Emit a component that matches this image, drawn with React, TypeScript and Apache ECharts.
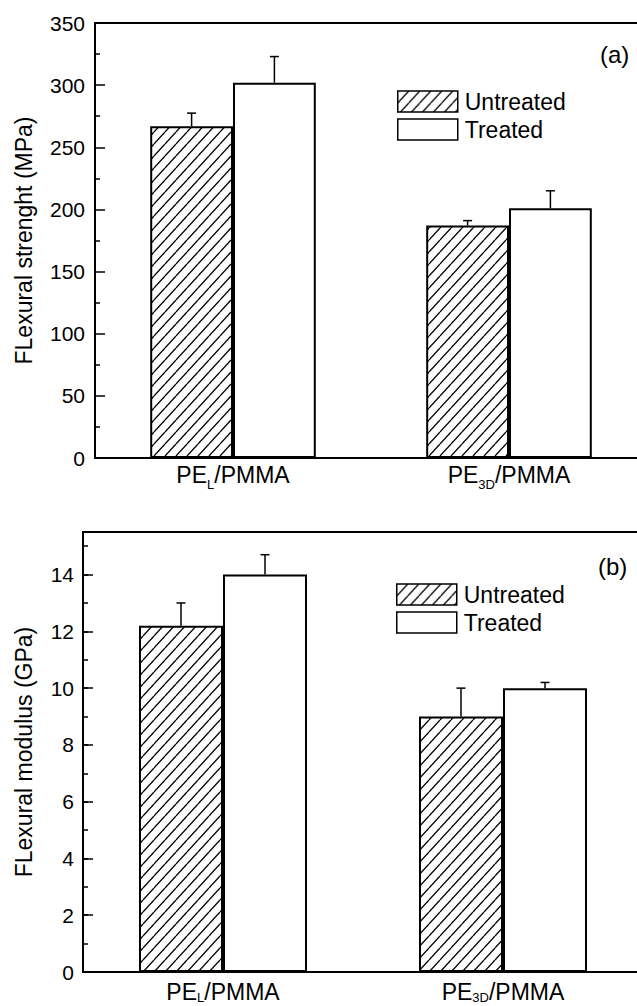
import React, { useEffect, useRef } from "react";
import * as echarts from "echarts";

const categories = ["PE_L/PMMA", "PE_3D/PMMA"];
const labelMain = ["PE", "PE"];
const labelSub = ["L", "3D"];
const labelTail = ["/PMMA", "/PMMA"];
const seriesNames = ["Untreated", "Treated"];

// (a) Flexural strength, MPa
const strengthUntreated = [267, 187];
const strengthUntreatedErr = [10.5, 4];
const strengthTreated = [302, 201];
const strengthTreatedErr = [21, 14];

// (b) Flexural modulus, GPa
const modulusUntreated = [12.2, 9.0];
const modulusUntreatedErr = [0.8, 1.0];
const modulusTreated = [14.0, 10.0];
const modulusTreatedErr = [0.7, 0.2];

const FONT = "'Liberation Sans', Arial, Helvetica, sans-serif";

function makeHatch() {
  const w = 11;
  const h = 12;
  const c = document.createElement("canvas");
  c.width = w;
  c.height = h;
  const ctx = c.getContext("2d")!;
  ctx.fillStyle = "#fff";
  ctx.fillRect(0, 0, w, h);
  ctx.strokeStyle = "#000";
  ctx.lineWidth = 1.3;
  for (const dx of [-w, 0, w]) {
    ctx.beginPath();
    ctx.moveTo(dx, h);
    ctx.lineTo(dx + w, 0);
    ctx.stroke();
  }
  return { image: c, repeat: "repeat", imageWidth: w, imageHeight: h } as any;
}

export default function App() {
  const ref = useRef<HTMLDivElement>(null);
  useEffect(() => {
    if (!ref.current) return;
    const chart = echarts.init(ref.current, null, { renderer: "svg" });
    const hatch = makeHatch();

    const errData = (vals: number[], errs: number[], side: number) =>
      vals.map((v, i) => [i, v, errs[i], side]);

    const renderErr = (params: any, api: any) => {
      const cat = api.value(0);
      const v = api.value(1);
      const e = api.value(2);
      const side = api.value(3);
      const base = api.coord([cat, v]);
      const top = api.coord([cat, v + e]);
      const bw = api.size([1, 0])[0] * 0.3;
      const x = base[0] + (side * bw) / 2;
      return {
        type: "group",
        children: [
          {
            type: "line",
            shape: { x1: x, y1: base[1], x2: x, y2: top[1] },
            style: { stroke: "#000", lineWidth: 1.5 },
          },
          {
            type: "line",
            shape: { x1: x - 4.5, y1: top[1], x2: x + 4.5, y2: top[1] },
            style: { stroke: "#000", lineWidth: 1.5 },
          },
        ],
      };
    };

    const xAxisBase = (gridIndex: number, margin: number, subPad: number) => ({
      type: "category",
      gridIndex,
      position: "bottom",
      data: categories,
      axisLine: { show: true, lineStyle: { color: "#000", width: 2 } },
      axisTick: { show: false },
      splitLine: { show: false },
      axisLabel: {
        margin,
        color: "#000",
        formatter: (_v: string, idx: number) =>
          `{m|${labelMain[idx]}}{s|${labelSub[idx]}}{m|${labelTail[idx]}}`,
        rich: {
          m: { fontSize: 23, lineHeight: 23, verticalAlign: "top", fontFamily: FONT, color: "#000" },
          s: {
            fontSize: 13,
            lineHeight: 13,
            verticalAlign: "top",
            padding: [subPad, 0, 0, 0],
            fontFamily: FONT,
            color: "#000",
          },
        },
      },
    });

    const legendBase = (left: number, top: number) => ({
      left,
      top,
      orient: "vertical",
      itemWidth: 60,
      itemHeight: 21,
      itemGap: 5,
      selectedMode: false,
      textStyle: { fontSize: 23, color: "#000", fontFamily: FONT, padding: [0, 0, 0, 2] },
      data: [
        {
          name: seriesNames[0],
          icon: "rect",
          itemStyle: { color: hatch, borderColor: "#000", borderWidth: 1.5 },
        },
        {
          name: seriesNames[1],
          icon: "rect",
          itemStyle: { color: "#fff", borderColor: "#000", borderWidth: 1.5 },
        },
      ],
    });

    const barStyle = (fill: any) => ({ color: fill, borderColor: "#000", borderWidth: 2 });

    chart.setOption({
      animation: false,
      backgroundColor: "#fff",
      textStyle: { fontFamily: FONT },
      grid: [
        {
          left: 95, top: 23, width: 552, height: 435,
          outerBoundsMode: "none", containLabel: false,
          show: true, borderColor: "#000", borderWidth: 2, backgroundColor: "transparent",
        },
        {
          left: 83, top: 532, width: 560, height: 440,
          outerBoundsMode: "none", containLabel: false,
          show: true, borderColor: "#000", borderWidth: 2, backgroundColor: "transparent",
        },
      ],
      legend: [legendBase(392, 85), legendBase(391, 578)],
      graphic: [
        { type: "text", left: 600, top: 42, style: { text: "(a)", font: `24px ${FONT}`, fill: "#000" } },
        { type: "text", left: 598, top: 554, style: { text: "(b)", font: `24px ${FONT}`, fill: "#000" } },
      ],
      xAxis: [xAxisBase(0, 5, 15), xAxisBase(1, 8, 11)],
      yAxis: [
        {
          type: "value",
          gridIndex: 0,
          position: "left",
          offset: 0,
          min: 0,
          max: 350,
          interval: 50,
          name: "FLexural strenght (MPa)",
          nameLocation: "middle",
          nameGap: 60,
          nameTextStyle: { fontSize: 23, color: "#000", fontFamily: FONT },
          axisLine: { show: true, lineStyle: { color: "#000", width: 2 } },
          axisTick: { show: true, inside: true, length: 10, lineStyle: { color: "#000", width: 1.5 } },
          minorTick: { show: true, splitNumber: 2, length: 5, lineStyle: { color: "#000", width: 1.5 } },
          splitLine: { show: false },
          minorSplitLine: { show: false },
          axisLabel: { fontSize: 21, color: "#000", margin: 10, fontFamily: FONT },
        },
        {
          type: "value",
          gridIndex: 1,
          position: "left",
          offset: 0,
          min: 0,
          max: 15.5,
          interval: 2,
          name: "FLexural modulus (GPa)",
          nameLocation: "middle",
          nameGap: 48,
          nameTextStyle: { fontSize: 23, color: "#000", fontFamily: FONT },
          axisLine: { show: true, lineStyle: { color: "#000", width: 2 } },
          axisTick: { show: true, inside: true, length: 10, lineStyle: { color: "#000", width: 1.5 } },
          splitLine: { show: false },
          axisLabel: {
            fontSize: 21,
            color: "#000",
            margin: 9,
            fontFamily: FONT,
            formatter: (v: number) => (v % 2 === 0 ? String(v) : ""),
          },
        },
        {
          type: "value",
          gridIndex: 1,
          position: "left",
          offset: 0,
          min: 0,
          max: 15.5,
          interval: 1,
          axisLine: { show: false },
          axisTick: { show: true, inside: true, length: 5, lineStyle: { color: "#000", width: 1.5 } },
          splitLine: { show: false },
          axisLabel: { show: false },
        },
      ],
      series: [
        {
          name: seriesNames[0],
          type: "bar",
          xAxisIndex: 0,
          yAxisIndex: 0,
          data: strengthUntreated,
          barWidth: "30%",
          barGap: "0%",
          itemStyle: barStyle(hatch),
        },
        {
          name: seriesNames[1],
          type: "bar",
          xAxisIndex: 0,
          yAxisIndex: 0,
          data: strengthTreated,
          barWidth: "30%",
          barGap: "0%",
          itemStyle: barStyle("#fff"),
        },
        {
          name: "errA",
          type: "custom",
          xAxisIndex: 0,
          yAxisIndex: 0,
          z: 5,
          renderItem: renderErr,
          data: [
            ...errData(strengthUntreated, strengthUntreatedErr, -1),
            ...errData(strengthTreated, strengthTreatedErr, 1),
          ],
        },
        {
          name: seriesNames[0],
          type: "bar",
          xAxisIndex: 1,
          yAxisIndex: 1,
          data: modulusUntreated,
          barWidth: "30%",
          barGap: "0%",
          itemStyle: barStyle(hatch),
        },
        {
          name: seriesNames[1],
          type: "bar",
          xAxisIndex: 1,
          yAxisIndex: 1,
          data: modulusTreated,
          barWidth: "30%",
          barGap: "0%",
          itemStyle: barStyle("#fff"),
        },
        {
          name: "errB",
          type: "custom",
          xAxisIndex: 1,
          yAxisIndex: 1,
          z: 5,
          renderItem: renderErr,
          data: [
            ...errData(modulusUntreated, modulusUntreatedErr, -1),
            ...errData(modulusTreated, modulusTreatedErr, 1),
          ],
        },
      ],
    });
    return () => chart.dispose();
  }, []);

  return (
    <div
      ref={ref}
      style={{ position: "absolute", left: 0, top: 0, width: 637, height: 1006, background: "#fff" }}
    />
  );
}
